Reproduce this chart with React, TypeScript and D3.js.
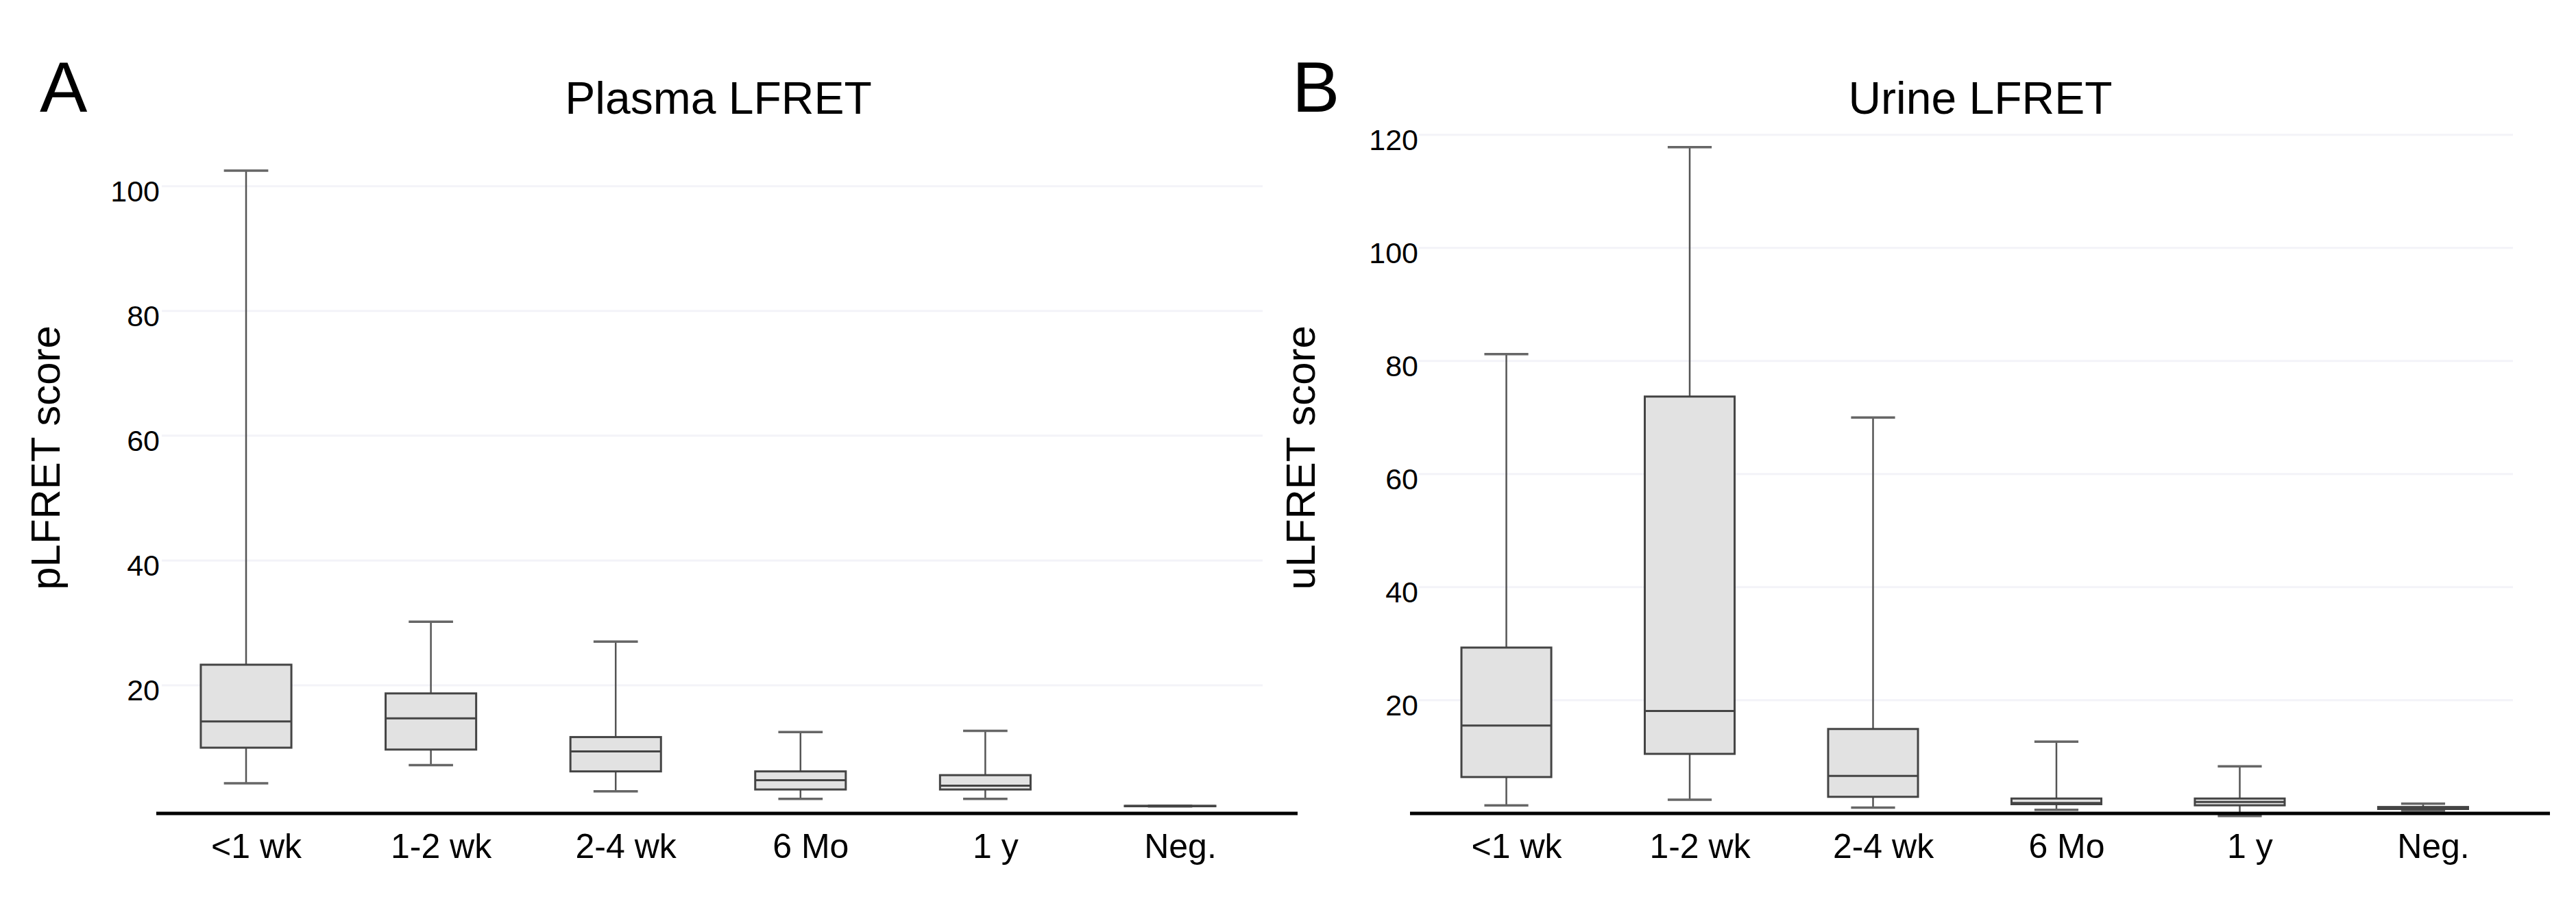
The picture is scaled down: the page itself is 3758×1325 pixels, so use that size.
import React from "react";
import * as d3 from "d3";

// ---------- data ----------
const categories = ["<1 wk", "1-2 wk", "2-4 wk", "6 Mo", "1 y", "Neg."];

const plasmaMin = [4.3, 7.2, 3.0, 1.8, 1.8, 0.6];
const plasmaQ1 = [10.0, 9.7, 6.2, 3.3, 3.3, 0.62];
const plasmaMedian = [14.2, 14.7, 9.4, 4.8, 3.9, 0.65];
const plasmaQ3 = [23.3, 18.7, 11.7, 6.2, 5.6, 0.68];
const plasmaMax = [102.5, 30.2, 27.0, 12.5, 12.7, 0.7];
const plasmaTicks = [20, 40, 60, 80, 100];

const urineMin = [1.4, 2.4, 1.0, 0.6, -0.5, 0.45];
const urineQ1 = [6.4, 10.5, 2.9, 1.6, 1.4, 0.75];
const urineMedian = [15.5, 18.1, 6.6, 1.8, 2.0, 0.9];
const urineQ3 = [29.3, 73.7, 14.9, 2.6, 2.6, 1.1];
const urineMax = [81.2, 117.8, 70.0, 12.65, 8.3, 1.7];
const urineTicks = [20, 40, 60, 80, 100, 120];

const FONT = "'Liberation Sans', Arial, Helvetica, sans-serif";

type PanelProps = {
  letter: string;
  letterX: number;
  title: string;
  titleX: number;
  yTitle: string;
  yTitleX: number;
  xRange: [number, number];
  yDomain: [number, number];
  yRange: [number, number];
  ticks: number[];
  tickX: number;
  gridX: [number, number];
  axisX: [number, number];
  axisY: number;
  mins: number[];
  q1s: number[];
  meds: number[];
  q3s: number[];
  maxs: number[];
};

function Panel(p: PanelProps) {
  const x = d3.scaleBand<string>().domain(categories).range(p.xRange).padding(0);
  const y = d3.scaleLinear().domain(p.yDomain).range(p.yRange);
  const bw = x.bandwidth();
  const boxW = bw * 0.49;
  const capW = bw * 0.24;

  return (
    <g>
      <text x={p.letterX} y={163} fontSize={104} fontFamily={FONT} fill="#000">
        {p.letter}
      </text>
      <text x={p.titleX} y={166} fontSize={66} fontFamily={FONT} textAnchor="middle" fill="#000">
        {p.title}
      </text>
      <text
        transform={`translate(${p.yTitleX},668) rotate(-90)`}
        fontSize={60}
        fontFamily={FONT}
        textAnchor="middle"
        fill="#000"
      >
        {p.yTitle}
      </text>
      {p.ticks.map((t) => (
        <g key={t}>
          <line x1={p.gridX[0]} x2={p.gridX[1]} y1={y(t)} y2={y(t)} stroke="#f3f3f8" strokeWidth={3} />
          <text x={p.tickX} y={y(t) + 22} fontSize={43} fontFamily={FONT} textAnchor="end" fill="#000">
            {t}
          </text>
        </g>
      ))}
      {categories.map((c, i) => {
        const cx = (x(c) as number) + bw / 2;
        return (
          <g key={c}>
            <line x1={cx} x2={cx} y1={y(p.maxs[i])} y2={y(p.q3s[i])} stroke="#555" strokeWidth={2.5} />
            <line x1={cx} x2={cx} y1={y(p.q1s[i])} y2={y(p.mins[i])} stroke="#555" strokeWidth={2.5} />
            <line x1={cx - capW / 2} x2={cx + capW / 2} y1={y(p.maxs[i])} y2={y(p.maxs[i])} stroke="#666" strokeWidth={3.5} />
            <line x1={cx - capW / 2} x2={cx + capW / 2} y1={y(p.mins[i])} y2={y(p.mins[i])} stroke="#666" strokeWidth={3.5} />
            <rect
              x={cx - boxW / 2}
              y={y(p.q3s[i])}
              width={boxW}
              height={Math.max(0, y(p.q1s[i]) - y(p.q3s[i]))}
              fill="#e2e2e2"
              stroke="#444"
              strokeWidth={3}
            />
            <line x1={cx - boxW / 2} x2={cx + boxW / 2} y1={y(p.meds[i])} y2={y(p.meds[i])} stroke="#444" strokeWidth={3} />
            <text x={cx + 15} y={1252} fontSize={50} fontFamily={FONT} textAnchor="middle" fill="#000">
              {c}
            </text>
          </g>
        );
      })}
      <line x1={p.axisX[0]} x2={p.axisX[1]} y1={p.axisY} y2={p.axisY} stroke="#000" strokeWidth={5} />
    </g>
  );
}

export default function App() {
  return (
    <div style={{ position: "absolute", left: 0, top: 0 }}>
      <svg width={3758} height={1325} style={{ display: "block", background: "#fff" }}>
        <rect width={3758} height={1325} fill="#fff" />
        <Panel
          letter="A"
          letterX={58}
          title="Plasma LFRET"
          titleX={1048}
          yTitle="pLFRET score"
          yTitleX={87}
          xRange={[224.2, 1841.8]}
          yDomain={[0, 100]}
          yRange={[1182.1, 271.7]}
          ticks={plasmaTicks}
          tickX={233}
          gridX={[236, 1842]}
          axisX={[228, 1893]}
          axisY={1187}
          mins={plasmaMin}
          q1s={plasmaQ1}
          meds={plasmaMedian}
          q3s={plasmaQ3}
          maxs={plasmaMax}
        />
        <Panel
          letter="B"
          letterX={1885}
          title="Urine LFRET"
          titleX={2889}
          yTitle="uLFRET score"
          yTitleX={1918}
          xRange={[2063.8, 3668.7]}
          yDomain={[0, 120]}
          yRange={[1186.7, 196.7]}
          ticks={urineTicks}
          tickX={2069}
          gridX={[2070, 3666]}
          axisX={[2057, 3720]}
          axisY={1187}
          mins={urineMin}
          q1s={urineQ1}
          meds={urineMedian}
          q3s={urineQ3}
          maxs={urineMax}
        />
      </svg>
    </div>
  );
}
